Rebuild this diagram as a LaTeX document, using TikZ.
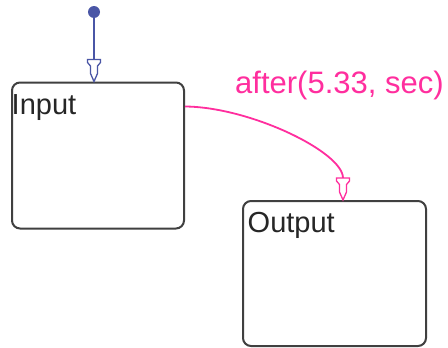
\documentclass[tikz,border=0pt]{standalone}
\usepackage{fontspec}
\setmainfont{Liberation Sans}
\definecolor{boxgray}{HTML}{404040}
\definecolor{initblue}{HTML}{4A56A6}
\definecolor{transpink}{HTML}{FF2E9E}
\begin{document}
\begin{tikzpicture}[x=1pt,y=-1pt,
  statebox/.style={draw=boxgray, line width=2pt, rounded corners=8pt, fill=white, inner sep=0pt},
  statetext/.style={font=\fontsize{29}{34}\selectfont, text=black!85, inner sep=0pt, anchor=base west},
  translabel/.style={font=\fontsize{31}{36}\selectfont, text=transpink, inner sep=0pt, anchor=base west},
  funnel/.pic={\draw[fill=white, line width=1.3pt, line join=miter]
     (-6.5,-22) -- (6.5,-22) -- (6.5,-19) -- (3.5,-15.5) -- (3.5,-8) -- (0,0)
     -- (-3.5,-8) -- (-3.5,-15.5) -- (-6.5,-19) -- cycle;}
]
\useasboundingbox[fill=white] (0,0) rectangle (448,348);

\node[statebox, minimum width=172pt, minimum height=146pt] (Input) at (98,155.5) {};
\node[statebox, minimum width=183pt, minimum height=145pt] (Output) at (334.5,273.5) {};

\node[statetext] (inlbl) at ([shift={(0.5,33)}]Input.north west) {Input};
\node[statetext] (outlbl) at ([shift={(5.5,32)}]Output.north west) {Output};

% default transition
\node[circle, fill=initblue, inner sep=0pt, minimum size=12pt] (init) at (94,12) {};
\coordinate (inittip) at (Input.north -| init);
\draw[initblue, line width=1.5pt] (init) -- ([shift={(0,-22)}]inittip);
\pic[initblue] at (inittip) {funnel};

% timed transition
\coordinate (tstart) at ([shift={(0,25)}]Input.north east);
\coordinate (ttip) at ([shift={(8.5,0)}]Output.north);
\draw[transpink, line width=1.8pt] (tstart) .. controls (250,107) and ([shift={(0,-48)}]ttip) .. ([shift={(0,-22)}]ttip);
\pic[transpink] at (ttip) {funnel};

\node[translabel] (tlbl) at (235,93) {after(5.33, sec)};
\end{tikzpicture}
\end{document}
